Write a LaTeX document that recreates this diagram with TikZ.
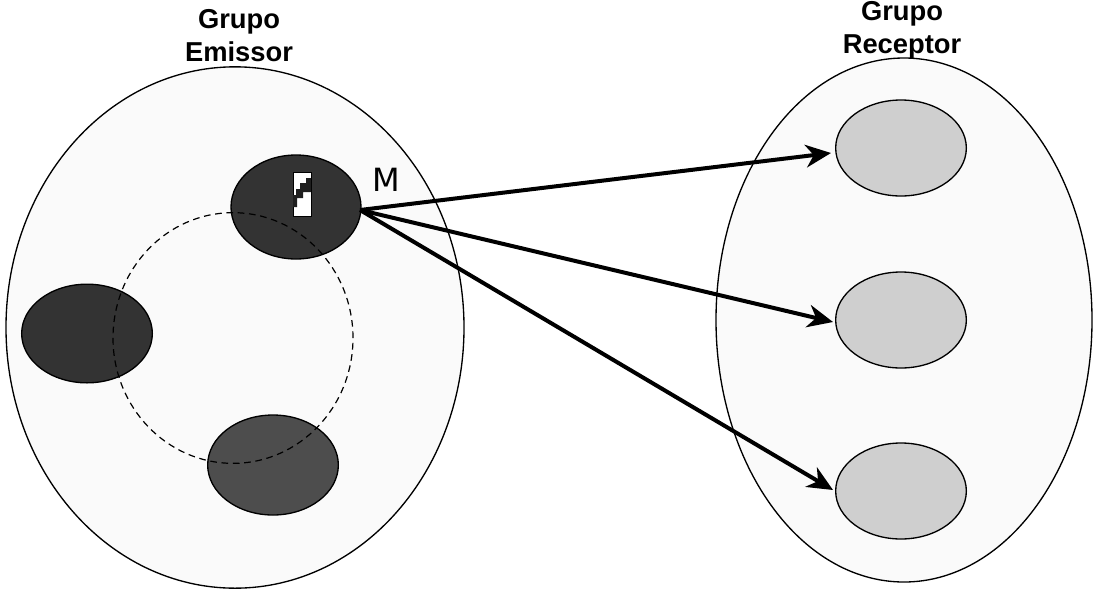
\documentclass[tikz,border=0pt]{standalone}
\usepackage{fontspec}
\setmainfont{Liberation Sans}
\newfontfamily\mfont{DejaVu Sans}
\usetikzlibrary{shapes.geometric,arrows.meta}
\definecolor{groupfill}{HTML}{FAFAFA}
\definecolor{darkA}{HTML}{333333}
\definecolor{darkB}{HTML}{4D4D4D}
\definecolor{lightB}{HTML}{CFCFCF}
\tikzset{
  oval/.style={ellipse,draw=black,inner sep=0pt,outer sep=0pt,line width=1pt},
  group/.style={oval,fill=groupfill,line width=1pt},
  title/.style={font=\bfseries\fontsize{20.5}{24.5}\selectfont,align=center,inner sep=0pt},
  member/.style={line width=3pt,-{Stealth[length=19pt,width=17pt,inset=6pt]}},
}
\begin{document}
\begin{tikzpicture}[x=0.75pt,y=-0.75pt]
\useasboundingbox (0,0) rectangle (1098,593);
\node[group,minimum width=343.5pt,minimum height=391pt] (em) at (235,327.5) {};
\node[group,minimum width=282pt,minimum height=393pt] (re) at (904,320) {};
\node[oval,fill=darkA,minimum width=97.5pt,minimum height=78pt] (a) at (296,207) {};
\node[oval,fill=darkA,minimum width=98pt,minimum height=74pt] (b) at (87,333.5) {};
\node[oval,fill=darkB,minimum width=98pt,minimum height=75pt] (c) at (273,465) {};
\node[oval,fill=lightB,minimum width=98pt,minimum height=72pt] (r1) at (901,148) {};
\node[oval,fill=lightB,minimum width=98pt,minimum height=72pt] (r2) at (901,320) {};
\node[oval,fill=lightB,minimum width=98pt,minimum height=72pt] (r3) at (901,491) {};
\node[ellipse,draw=black,dash pattern=on 5pt off 3.5pt,line width=0.9pt,inner sep=0pt,minimum width=180pt,minimum height=188pt] (ring) at (233,338) {};
% message icon
\node[draw=black,fill=white,line width=0.6pt,minimum width=13.5pt,minimum height=32.5pt,inner sep=0pt] (msg) at (302,194.5) {};
\fill[black!88] (306,178) -- (306,183) -- (300,183) -- (300,189) -- (296,189) -- (296,195) -- (293,195) -- (293,207) -- (297,207) -- (297,198) -- (303,198) -- (303,192) -- (311,192) -- (311,178) -- cycle;
\node[title] (t1) at (239,35.5) {Grupo\\Emissor};
\node[title] (t2) at (902,30.5) {Grupo\\Receptor};
\node[font=\mfont\fontsize{24}{26}\selectfont,inner sep=0pt] (m) at (386,180) {M};
\coordinate (s) at (360,210);
\coordinate (e1) at (831,153);
\coordinate (e2) at (833,322);
\coordinate (e3) at (833,490);
\draw[member] (s) -- (e1);
\draw[member] (s) -- (e2);
\draw[member] (s) -- (e3);
\end{tikzpicture}
\end{document}
